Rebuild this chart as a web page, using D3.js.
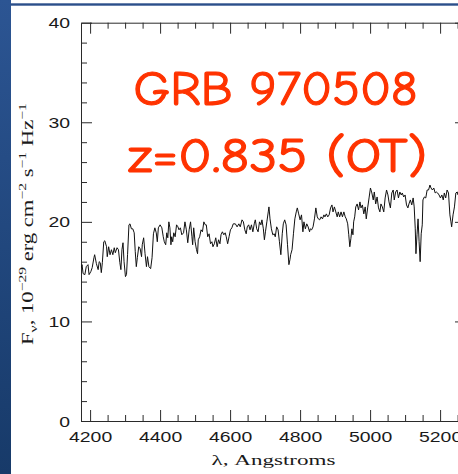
<!DOCTYPE html>
<html>
<head>
<meta charset="utf-8">
<script src="https://cdn.jsdelivr.net/npm/d3@7"></script>
<style>
  html, body { margin: 0; padding: 0; background: #ffffff; overflow: hidden; }
  svg { display: block; }
</style>
</head>
<body>
<svg id="chart" width="458" height="474"></svg>
<script>
// Optical spectrum of the GRB 970508 optical transient (observed frame)
const wavelength = [
  4175,4177,4180,4185,4189,4194,4197,4202,4206,4211,4213,4218,4223,4226,4229,4232,4235,4239,4242,4247,4249,
  4253,4257,4261,4265,4269,4272,4277,4281,4285,4288,4291,4294,4297,4301,4304,4307,4311,4314,4318,4322,
  4326,4329,4332,4335,4339,4343,4347,4349,4353,4357,4361,4364,4368,4373,4377,4381,4385,4389,4392,
  4395,4400,4405,4409,4412,4416,4419,4422,4425,4428,4431,4433,4436,4439,4443,4447,4451,4454,4458,4462,
  4467,4471,4475,4479,4483,4487,4491,4493,4496,4500,4504,4507,4509,4513,4517,4521,4525,4529,4532,4536,
  4540,4544,4548,4551,4555,4559,4563,4567,4571,4574,4578,4582,4586,4589,4593,4597,4601,4605,4609,
  4615,4620,4625,4629,4634,4638,4642,4646,4649,4653,4657,4661,4665,4669,4672,4676,4680,4684,4688,4691,
  4695,4698,4701,4705,4709,4711,4714,4718,4722,4726,4729,4733,4737,4741,4745,4749,4752,4756,4760,4764,
  4768,4771,4773,4777,4781,4785,4789,4792,4796,4800,4804,4808,4811,4815,4819,4823,4827,
  4829,4833,4837,4841,4845,4849,4852,4856,4860,4864,4868,4871,4875,4879,4883,4887,4891,4894,4898,4902,
  4906,4909,4913,4917,4921,4925,4929,4932,4936,4939,4942,4945,4948,4951,4953,4956,4959,4963,4967,4971,
  4974,4978,4982,4986,4989,4993,4997,5001,5005,5009,5012,5016,5020,5024,5028,5031,5035,5039,5043,5047,
  5051,5054,
  5058,5062,5066,5069,5073,5077,5081,5085,5089,5092,5096,5100,5104,5108,5111,5115,5119,5123,5126,5129,
  5131,5134,5137,5140,5143,5146,5149,5151,5155,5159,5163,5167,5171,5174,5178,5182,5186,5189,5193,5197,
  5201,5205,5209,5212,5216,5220,5224,5228,5231,5233,5237,5241,5245,5249,5251
];

// F_nu in units of 1e-29 erg cm^-2 s^-1 Hz^-1
const flux = [
  15.4,15.7,14.8,14.7,15.5,15.7,14.7,15.0,15.4,16.4,16.7,15.8,15.2,16.0,15.9,14.9,15.9,18.0,18.1,17.5,16.5,
  17.5,16.7,17.2,16.7,17.4,16.9,17.4,17.2,15.9,15.2,17.2,17.9,16.0,14.5,14.7,16.7,19.7,19.8,19.3,19.3,
  18.9,17.0,15.5,16.4,17.5,17.3,16.5,17.7,18.4,16.8,15.5,16.5,15.5,15.3,16.4,18.8,19.4,18.9,18.0,
  19.4,19.7,19.4,18.5,18.0,17.7,18.9,18.4,20.0,19.4,17.7,18.5,18.0,18.9,18.5,19.7,19.5,19.2,19.4,18.7,
  18.9,20.0,19.2,17.9,19.2,20.0,18.5,17.7,19.4,18.0,17.2,16.8,18.2,18.5,19.2,19.0,20.0,19.7,19.7,18.5,
  18.8,17.8,18.0,17.5,17.8,18.4,17.5,18.2,17.8,18.7,19.0,18.7,18.9,18.5,17.8,18.5,19.2,19.4,19.8,
  19.8,19.5,19.8,19.5,20.2,20.0,19.2,18.8,19.5,19.7,19.2,19.7,19.0,19.8,20.2,19.3,19.0,20.0,19.7,20.2,
  19.3,18.2,19.0,20.0,21.0,21.5,20.3,19.3,18.7,18.8,18.5,19.5,19.2,18.0,16.7,18.8,19.8,20.2,19.7,17.7,
  15.7,16.2,16.7,17.2,18.8,20.3,21.0,21.4,20.8,20.2,20.7,19.0,20.0,19.3,19.8,19.5,19.0,
  19.3,19.2,19.5,20.3,21.4,20.5,20.3,20.2,20.5,20.3,20.7,20.5,20.8,20.5,20.7,21.4,21.7,21.0,21.5,21.0,
  20.5,21.0,20.5,21.0,20.5,21.0,20.5,20.3,19.8,18.7,17.5,18.3,19.3,18.7,20.0,20.5,21.5,21.8,21.2,22.0,
  21.4,21.7,20.8,21.5,20.3,21.4,22.4,23.4,22.9,22.2,23.0,21.8,22.5,21.4,21.0,21.8,21.5,21.0,22.4,23.2,
  22.7,22.0,
  21.4,22.9,23.2,22.2,23.0,23.2,22.4,23.0,22.7,22.9,22.5,22.7,21.7,21.4,21.8,22.2,21.7,22.4,21.5,19.3,
  16.8,18.7,20.3,18.0,16.0,18.8,19.7,22.2,22.5,22.4,23.2,23.2,23.7,23.4,23.2,23.4,22.9,23.0,22.9,22.7,
  22.4,22.7,22.2,22.9,22.4,23.2,22.9,20.7,20.0,19.5,20.7,21.5,22.9,23.0,22.7
];

const xDomain = [4174, 5274];
const yDomain = [0, 40];
const xMajorTicks = [4200, 4400, 4600, 4800, 5000, 5200];
const xMinorTicks = d3.range(4200, 5251, 50).filter(v => v % 200 !== 0);
const yMajorTicks = [0, 10, 20, 30, 40];
const yMinorTicks = d3.range(0, 41, 2).filter(v => v % 10 !== 0);
const titleLines = ["GRB 970508", "z=0.835 (OT)"];
const xAxisTitle = "\u03bb, Angstroms";

const svg = d3.select("#chart");

// slide decoration: blue left band and thin rule at the top
const defs = svg.append("defs");
const grad = defs.append("linearGradient").attr("id", "band").attr("x1", 0).attr("y1", 0).attr("x2", 0).attr("y2", 1);
grad.append("stop").attr("offset", "0%").attr("stop-color", "#2c5593");
grad.append("stop").attr("offset", "100%").attr("stop-color", "#173a69");
svg.append("rect").attr("x", 0).attr("y", 0).attr("width", 11).attr("height", 474).attr("fill", "url(#band)");
svg.append("rect").attr("x", 11).attr("y", 3.3).attr("width", 447).attr("height", 2.4).attr("fill", "#2b4f8a");

// plot frame geometry
const frame = { left: 81, right: 466, top: 22.7, bottom: 421 };
const x = d3.scaleLinear().domain(xDomain).range([frame.left, frame.right]);
const y = d3.scaleLinear().domain(yDomain).range([frame.bottom, frame.top]);

defs.append("clipPath").attr("id", "plotclip")
  .append("rect").attr("x", frame.left).attr("y", frame.top)
  .attr("width", frame.right - frame.left).attr("height", frame.bottom - frame.top);

const axisColor = "#2a2a2a";
const tickFont = "'Liberation Sans', Arial, Helvetica, sans-serif";

function styleAxis(g) {
  g.selectAll("path, line").attr("stroke", axisColor).attr("stroke-width", 1);
}

// major + minor ticks on all four sides, drawn inward
const xb = svg.append("g").attr("transform", `translate(0,${frame.bottom})`)
  .call(d3.axisBottom(x).tickValues(xMajorTicks).tickSize(-11).tickSizeOuter(0).tickPadding(11).tickFormat(d3.format("d")));
svg.append("g").attr("transform", `translate(0,${frame.bottom})`)
  .call(d3.axisBottom(x).tickValues(xMinorTicks).tickSize(-6).tickSizeOuter(0).tickFormat(""))
  .call(g => g.select(".domain").remove()).call(styleAxis);
svg.append("g").attr("transform", `translate(0,${frame.top})`)
  .call(d3.axisTop(x).tickValues(xMajorTicks).tickSize(-11).tickSizeOuter(0).tickFormat("")).call(styleAxis);
svg.append("g").attr("transform", `translate(0,${frame.top})`)
  .call(d3.axisTop(x).tickValues(xMinorTicks).tickSize(-6).tickSizeOuter(0).tickFormat(""))
  .call(g => g.select(".domain").remove()).call(styleAxis);

const yl = svg.append("g").attr("transform", `translate(${frame.left},0)`)
  .call(d3.axisLeft(y).tickValues(yMajorTicks).tickSize(-11).tickSizeOuter(0).tickPadding(11).tickFormat(d3.format("d")));
svg.append("g").attr("transform", `translate(${frame.left},0)`)
  .call(d3.axisLeft(y).tickValues(yMinorTicks).tickSize(-6).tickSizeOuter(0).tickFormat(""))
  .call(g => g.select(".domain").remove()).call(styleAxis);
svg.append("g").attr("transform", `translate(${frame.right},0)`)
  .call(d3.axisRight(y).tickValues(yMajorTicks).tickSize(-11).tickSizeOuter(0).tickFormat("")).call(styleAxis);
svg.append("g").attr("transform", `translate(${frame.right},0)`)
  .call(d3.axisRight(y).tickValues(yMinorTicks).tickSize(-6).tickSizeOuter(0).tickFormat(""))
  .call(g => g.select(".domain").remove()).call(styleAxis);

[xb, yl].forEach(g => {
  styleAxis(g);
  g.selectAll("text")
    .attr("font-family", tickFont).attr("font-size", 14).attr("fill", "#1a1a1a")
    .attr("lengthAdjust", "spacingAndGlyphs")
    .attr("textLength", function () { return this.textContent.length * 10.8; });
});
xb.selectAll("text").attr("dy", "0.71em");
yl.selectAll("text").attr("dy", "0.36em");

// spectrum trace
const pts = d3.zip(wavelength, flux);
svg.append("path")
  .datum(pts)
  .attr("clip-path", "url(#plotclip)")
  .attr("fill", "none")
  .attr("stroke", "#111")
  .attr("stroke-width", 1)
  .attr("stroke-linejoin", "round")
  .attr("d", d3.line().x(d => x(d[0])).y(d => y(d[1])));

// x-axis title
svg.append("text")
  .attr("x", 273.5).attr("y", 465)
  .attr("text-anchor", "middle")
  .attr("font-family", "'Liberation Serif', 'Times New Roman', serif")
  .attr("font-size", 15).attr("fill", "#1a1a1a")
  .attr("lengthAdjust", "spacingAndGlyphs").attr("textLength", 124)
  .text(xAxisTitle);

// y-axis title with sub/superscripts, rotated and stretched to the axis height
const yt = svg.append("g");
const ytxt = yt.append("text")
  .attr("font-family", "'Liberation Serif', 'Times New Roman', serif")
  .attr("font-size", 16).attr("fill", "#1a1a1a");
const parts = [
  ["F", 0, 16], ["\u03bd", 4, 11], [", 10", -4, 16], ["\u221229", -7, 11],
  [" erg cm", 7, 16], ["\u22122", -7, 11], [" s", 7, 16], ["\u22121", -7, 11],
  [" Hz", 7, 16], ["\u22121", -7, 11]
];
parts.forEach(([t, dy, fs]) => {
  ytxt.append("tspan").attr("dy", dy).attr("font-size", fs).text(t);
});
const bb = ytxt.node().getBBox();
const yLen = 242;
const sx = yLen / bb.width;
yt.attr("transform", `translate(33.3,224) rotate(-90) scale(${sx},1.02) translate(${-(bb.x + bb.width / 2)},0)`);

// red annotation
const titleFont = "'Comic Sans MS', 'Comic Neue', Lato, 'Open Sans', sans-serif";
const titleSpec = [
  { text: titleLines[0], cx: 275.5, base: 104.5, len: 284 },
  { text: titleLines[1], cx: 277.5, base: 171.5, len: 299 }
];
svg.selectAll("text.anno").data(titleSpec).join("text")
  .attr("class", "anno")
  .attr("x", d => d.cx).attr("y", d => d.base)
  .attr("text-anchor", "middle")
  .attr("font-family", titleFont)
  .attr("font-size", 48)
  .attr("fill", "#ff3300")
  .attr("stroke", "#ff3300").attr("stroke-width", 1.2).attr("stroke-linejoin", "round")
  .attr("lengthAdjust", "spacingAndGlyphs")
  .attr("textLength", d => d.len)
  .text(d => d.text);
</script>
</body>
</html>
